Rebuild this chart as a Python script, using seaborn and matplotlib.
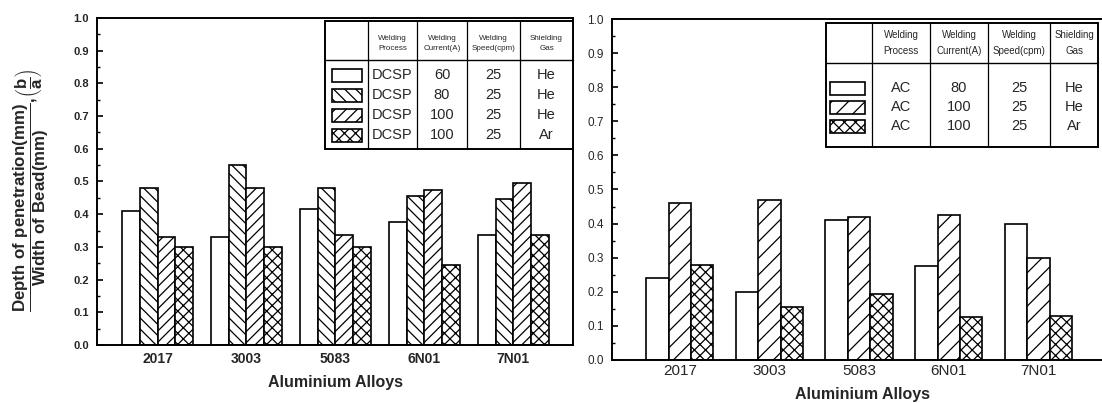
import matplotlib
matplotlib.use("Agg")
import matplotlib.pyplot as plt
from matplotlib.patches import Rectangle
from matplotlib.lines import Line2D
from matplotlib.ticker import MultipleLocator, FormatStrFormatter
import seaborn as sns
import pandas as pd

# ---------------- data ----------------
alloys = ['2017', '3003', '5083', '6N01', '7N01']

# left panel: DCSP
dcsp_labels = ['DCSP 60A He', 'DCSP 80A He', 'DCSP 100A He', 'DCSP 100A Ar']
dcsp_60_he = [0.41, 0.33, 0.415, 0.375, 0.335]
dcsp_80_he = [0.48, 0.55, 0.48, 0.455, 0.445]
dcsp_100_he = [0.33, 0.48, 0.335, 0.475, 0.495]
dcsp_100_ar = [0.30, 0.30, 0.30, 0.245, 0.335]

# right panel: AC
ac_labels = ['AC 80A He', 'AC 100A He', 'AC 100A Ar']
ac_80_he = [0.24, 0.20, 0.41, 0.275, 0.40]
ac_100_he = [0.46, 0.47, 0.42, 0.425, 0.30]
ac_100_ar = [0.28, 0.155, 0.195, 0.125, 0.13]

# legend tables
header = [('Welding', 'Process'), ('Welding', 'Current(A)'),
          ('Welding', 'Speed(cpm)'), ('Shielding', 'Gas')]
dcsp_rows = [['DCSP', '60', '25', 'He'], ['DCSP', '80', '25', 'He'],
             ['DCSP', '100', '25', 'He'], ['DCSP', '100', '25', 'Ar']]
ac_rows = [['AC', '80', '25', 'He'], ['AC', '100', '25', 'He'],
           ['AC', '100', '25', 'Ar']]

hatches_left = ['', '\\\\\\', '///', 'xxx']
hatches_right = ['', '//', 'xxx']

# ---------------- style ----------------
sns.set_theme(style='white')
plt.rcParams['font.family'] = ['Liberation Sans', 'DejaVu Sans']
plt.rcParams['mathtext.fontset'] = 'custom'
plt.rcParams['mathtext.bf'] = 'Liberation Sans:bold'
plt.rcParams['mathtext.rm'] = 'Liberation Sans'
plt.rcParams['hatch.linewidth'] = 0.9
plt.rcParams['hatch.color'] = 'black'

W, H = 1102, 403
fig = plt.figure(figsize=(W / 100, H / 100), dpi=100)


def px_axes(x0, y0, x1, y1):
    return fig.add_axes([x0 / W, 1 - y1 / H, (x1 - x0) / W, (y1 - y0) / H])


dfL = pd.DataFrame({
    'alloy': alloys * 4,
    'value': dcsp_60_he + dcsp_80_he + dcsp_100_he + dcsp_100_ar,
    'cond': sum([[l] * len(alloys) for l in dcsp_labels], []),
})
dfR = pd.DataFrame({
    'alloy': alloys * 3,
    'value': ac_80_he + ac_100_he + ac_100_ar,
    'cond': sum([[l] * len(alloys) for l in ac_labels], []),
})

axL = px_axes(97, 18, 573, 345)
axR = px_axes(612, 19, 1113, 360)

sns.barplot(data=dfL, x='alloy', y='value', hue='cond', hue_order=dcsp_labels,
            palette=['white'] * 4, edgecolor='black', linewidth=1.2,
            width=0.8, saturation=1, legend=False, ax=axL)
sns.barplot(data=dfR, x='alloy', y='value', hue='cond', hue_order=ac_labels,
            palette=['white'] * 3, edgecolor='black', linewidth=1.2,
            width=0.75, saturation=1, legend=False, ax=axR)

for cont, h in zip(axL.containers, hatches_left):
    for b in cont:
        b.set_hatch(h)
for cont, h in zip(axR.containers, hatches_right):
    for b in cont:
        b.set_hatch(h)

for ax in (axL, axR):
    ax.set_ylim(0, 1.0)
    ax.yaxis.set_major_locator(MultipleLocator(0.1))
    ax.yaxis.set_minor_locator(MultipleLocator(0.05))
    ax.yaxis.set_major_formatter(FormatStrFormatter('%.1f'))
    ax.tick_params(axis='y', which='major', direction='in', length=4,
                   width=1.2, left=True, right=False, color='black')
    ax.tick_params(axis='y', which='minor', direction='in', length=2.5,
                   width=1.0, left=True, right=False, color='black')
    ax.tick_params(axis='x', length=0)
    ax.set_ylabel('')
    for s in ax.spines.values():
        s.set_color('black')
        s.set_linewidth(1.4)

axL.set_xlim(-0.68, 4.67)
axR.set_xlim(-0.755, 4.83)
axR.spines['right'].set_visible(False)

axL.tick_params(axis='y', labelsize=8, pad=6)
axL.tick_params(axis='x', labelsize=10, pad=5)
for t in axL.get_yticklabels() + axL.get_xticklabels():
    t.set_fontweight('bold')
axR.tick_params(axis='y', labelsize=8.5, pad=6)
axR.tick_params(axis='x', labelsize=11, pad=3)

axL.set_xlabel('Aluminium Alloys', fontsize=11.5, fontweight='bold')
axL.xaxis.set_label_coords(0.5, (345 - 383) / 327)
axL.xaxis.label.set_verticalalignment('center')
axR.set_xlabel('Aluminium Alloys', fontsize=11.5, fontweight='bold')
axR.xaxis.set_label_coords(0.5, (360 - 395) / 341)
axR.xaxis.label.set_verticalalignment('center')

fig.text(31 / W, 1 - 190 / H,
         r'$\dfrac{\mathbf{Depth\ of\ penetration(mm)}}{\mathbf{Width\ of\ Bead(mm)}}'
         r'\mathbf{,}\left(\dfrac{\mathbf{b}}{\mathbf{a}}\right)$',
         rotation=90, ha='center', va='center', fontsize=12.2)

# ---------------- legend tables (overlay in pixel coords) ----------------
ov = fig.add_axes([0, 0, 1, 1], facecolor='none')
ov.set_xlim(0, W)
ov.set_ylim(H, 0)
ov.axis('off')


def draw_table(cols, top, hb, bottom, row_y0, row_dy, hy, sw, rows, hatches,
               hfs, bfs):
    x0, x1 = cols[0], cols[-1]
    ov.add_patch(Rectangle((x0, top), x1 - x0, bottom - top, facecolor='white',
                           edgecolor='black', linewidth=1.4, zorder=5))
    ov.add_line(Line2D([x0, x1], [hb, hb], color='black', lw=1.0, zorder=6))
    for c in cols[1:-1]:
        ov.add_line(Line2D([c, c], [top, bottom], color='black', lw=0.9,
                           zorder=6))
    for i, (l1, l2) in enumerate(header):
        cx = (cols[i + 1] + cols[i + 2]) / 2
        ov.text(cx, hy[0], l1, ha='center', va='center', fontsize=hfs,
                zorder=7)
        ov.text(cx, hy[1], l2, ha='center', va='center', fontsize=hfs,
                zorder=7)
    for r, (row, h) in enumerate(zip(rows, hatches)):
        cy = row_y0 + r * row_dy
        sx0, sx1, sh = sw
        ov.add_patch(Rectangle((sx0, cy - sh / 2), sx1 - sx0, sh,
                               facecolor='white', edgecolor='black',
                               linewidth=1.2, hatch=h, zorder=7))
        for j, txt in enumerate(row):
            cx = (cols[j + 1] + cols[j + 2]) / 2
            ov.text(cx, cy, txt, ha='center', va='center', fontsize=bfs,
                    zorder=7)


draw_table([325, 368, 417, 467, 520, 573], 21, 60, 149, 75, 20, (38, 49),
           (332, 362, 13), dcsp_rows, hatches_left, 5.8, 10.5)
draw_table([826, 872, 930, 988, 1050, 1098], 23, 63, 147, 88, 19, (35, 51),
           (830, 865, 13), ac_rows, hatches_right, 7, 10.5)

fig.savefig('out.png', dpi=100)
